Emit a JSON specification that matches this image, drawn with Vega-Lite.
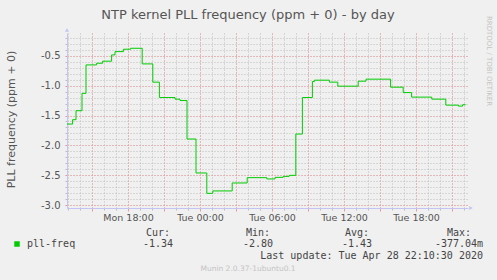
{
  "$schema": "https://vega.github.io/schema/vega-lite/v6.json",
  "width": 401,
  "height": 175,
  "autosize": {"type": "none"},
  "padding": {"left": 67, "top": 33, "right": 29, "bottom": 72},
  "background": "#f0f0f0",
  "config": {
    "view": {"fill": "#ffffff", "stroke": null},
    "font": "DejaVu Sans"
  },
  "title": {
    "text": "NTP kernel PLL frequency (ppm + 0) - by day",
    "font": "DejaVu Sans",
    "fontSize": 13,
    "fontWeight": "normal",
    "color": "#555555",
    "anchor": "middle",
    "frame": "group",
    "dx": -19.5,
    "baseline": "middle",
    "offset": -12
  },
  "data": {
    "values": [
      {"time": "2020-04-27T12:55:00", "value": -1.643},
      {"time": "2020-04-27T13:23:00", "value": -1.57},
      {"time": "2020-04-27T13:40:00", "value": -1.42},
      {"time": "2020-04-27T14:10:00", "value": -1.13},
      {"time": "2020-04-27T14:30:00", "value": -0.655},
      {"time": "2020-04-27T15:23:00", "value": -0.627},
      {"time": "2020-04-27T15:53:00", "value": -0.593},
      {"time": "2020-04-27T16:38:00", "value": -0.488},
      {"time": "2020-04-27T16:55:00", "value": -0.433},
      {"time": "2020-04-27T17:37:00", "value": -0.393},
      {"time": "2020-04-27T18:13:00", "value": -0.377},
      {"time": "2020-04-27T19:11:00", "value": -0.638},
      {"time": "2020-04-27T20:04:00", "value": -0.943},
      {"time": "2020-04-27T20:37:00", "value": -1.2},
      {"time": "2020-04-27T21:55:00", "value": -1.227},
      {"time": "2020-04-27T22:20:00", "value": -1.25},
      {"time": "2020-04-27T22:55:00", "value": -1.893},
      {"time": "2020-04-27T23:40:00", "value": -2.46},
      {"time": "2020-04-28T00:34:00", "value": -2.8},
      {"time": "2020-04-28T01:04:00", "value": -2.76},
      {"time": "2020-04-28T02:41:00", "value": -2.627},
      {"time": "2020-04-28T03:56:00", "value": -2.538},
      {"time": "2020-04-28T05:34:00", "value": -2.56},
      {"time": "2020-04-28T06:15:00", "value": -2.533},
      {"time": "2020-04-28T06:56:00", "value": -2.517},
      {"time": "2020-04-28T07:26:00", "value": -2.5},
      {"time": "2020-04-28T07:59:00", "value": -1.81},
      {"time": "2020-04-28T08:32:00", "value": -1.2},
      {"time": "2020-04-28T09:22:00", "value": -0.933},
      {"time": "2020-04-28T09:32:00", "value": -0.91},
      {"time": "2020-04-28T10:47:00", "value": -0.943},
      {"time": "2020-04-28T11:29:00", "value": -1.01},
      {"time": "2020-04-28T13:11:00", "value": -0.927},
      {"time": "2020-04-28T13:50:00", "value": -0.893},
      {"time": "2020-04-28T15:53:00", "value": -1.027},
      {"time": "2020-04-28T16:56:00", "value": -1.117},
      {"time": "2020-04-28T17:38:00", "value": -1.193},
      {"time": "2020-04-28T19:19:00", "value": -1.227},
      {"time": "2020-04-28T20:29:00", "value": -1.327},
      {"time": "2020-04-28T21:32:00", "value": -1.343},
      {"time": "2020-04-28T21:53:00", "value": -1.32},
      {"time": "2020-04-28T22:08:00", "value": -1.32}
    ]
  },
  "layer": [
    {
      "mark": {"type": "line", "strokeOpacity": 0},
      "encoding": {
        "x": {
          "field": "time", "type": "temporal",
          "scale": {"domain": [{"year": 2020, "month": 4, "date": 27, "hours": 12, "minutes": 55}, {"year": 2020, "month": 4, "date": 28, "hours": 22, "minutes": 20}]},
          "axis": {
            "orient": "bottom",
            "values": [
              {"year": 2020, "month": 4, "date": 27, "hours": 13}, {"year": 2020, "month": 4, "date": 27, "hours": 14}, {"year": 2020, "month": 4, "date": 27, "hours": 15},
              {"year": 2020, "month": 4, "date": 27, "hours": 16}, {"year": 2020, "month": 4, "date": 27, "hours": 17}, {"year": 2020, "month": 4, "date": 27, "hours": 18},
              {"year": 2020, "month": 4, "date": 27, "hours": 19}, {"year": 2020, "month": 4, "date": 27, "hours": 20}, {"year": 2020, "month": 4, "date": 27, "hours": 21},
              {"year": 2020, "month": 4, "date": 27, "hours": 22}, {"year": 2020, "month": 4, "date": 27, "hours": 23}, {"year": 2020, "month": 4, "date": 28, "hours": 0},
              {"year": 2020, "month": 4, "date": 28, "hours": 1}, {"year": 2020, "month": 4, "date": 28, "hours": 2}, {"year": 2020, "month": 4, "date": 28, "hours": 3},
              {"year": 2020, "month": 4, "date": 28, "hours": 4}, {"year": 2020, "month": 4, "date": 28, "hours": 5}, {"year": 2020, "month": 4, "date": 28, "hours": 6},
              {"year": 2020, "month": 4, "date": 28, "hours": 7}, {"year": 2020, "month": 4, "date": 28, "hours": 8}, {"year": 2020, "month": 4, "date": 28, "hours": 9},
              {"year": 2020, "month": 4, "date": 28, "hours": 10}, {"year": 2020, "month": 4, "date": 28, "hours": 11}, {"year": 2020, "month": 4, "date": 28, "hours": 12},
              {"year": 2020, "month": 4, "date": 28, "hours": 13}, {"year": 2020, "month": 4, "date": 28, "hours": 14}, {"year": 2020, "month": 4, "date": 28, "hours": 15},
              {"year": 2020, "month": 4, "date": 28, "hours": 16}, {"year": 2020, "month": 4, "date": 28, "hours": 17}, {"year": 2020, "month": 4, "date": 28, "hours": 18},
              {"year": 2020, "month": 4, "date": 28, "hours": 19}, {"year": 2020, "month": 4, "date": 28, "hours": 20}, {"year": 2020, "month": 4, "date": 28, "hours": 21},
              {"year": 2020, "month": 4, "date": 28, "hours": 22}
            ],
            "grid": true, "gridColor": "#bdbdbd", "gridDash": [1, 2], "labels": false, "ticks": true, "tickColor": "#bdbdbd", "tickSize": 2, "domain": false, "title": null
          }
        },
        "y": {
          "field": "value", "type": "quantitative",
          "scale": {"domain": [-3.045, -0.122], "nice": false, "zero": false},
          "axis": {"orient": "left", "values": [-3.0, -2.9, -2.8, -2.7, -2.6, -2.5, -2.4, -2.3, -2.2, -2.1, -2.0, -1.9, -1.8, -1.7, -1.6, -1.5, -1.4, -1.3, -1.2, -1.1, -1.0, -0.9, -0.8, -0.7, -0.6, -0.5, -0.4, -0.3, -0.2], "grid": true, "gridColor": "#bdbdbd", "gridDash": [1, 2], "labels": false, "ticks": true, "tickColor": "#bdbdbd", "tickSize": 2, "domain": false, "title": null}
        }
      }
    },
    {
      "mark": {"type": "line", "strokeOpacity": 0},
      "encoding": {
        "x": {
          "field": "time", "type": "temporal",
          "axis": {
            "orient": "bottom",
            "values": [
              {"year": 2020, "month": 4, "date": 27, "hours": 15}, {"year": 2020, "month": 4, "date": 27, "hours": 18}, {"year": 2020, "month": 4, "date": 27, "hours": 21},
              {"year": 2020, "month": 4, "date": 28, "hours": 0}, {"year": 2020, "month": 4, "date": 28, "hours": 3}, {"year": 2020, "month": 4, "date": 28, "hours": 6},
              {"year": 2020, "month": 4, "date": 28, "hours": 9}, {"year": 2020, "month": 4, "date": 28, "hours": 12}, {"year": 2020, "month": 4, "date": 28, "hours": 15},
              {"year": 2020, "month": 4, "date": 28, "hours": 18}, {"year": 2020, "month": 4, "date": 28, "hours": 21}
            ],
            "grid": true, "gridColor": "#ef9a9a", "gridDash": [1, 2], "labels": false, "ticks": true, "tickColor": "#ef9a9a", "tickSize": 3, "domain": false, "title": null
          }
        },
        "y": {
          "field": "value", "type": "quantitative",
          "axis": {
            "orient": "left", "values": [-3.0, -2.5, -2.0, -1.5, -1.0, -0.5], "grid": true, "gridColor": "#ef9a9a", "gridDash": [1, 2],
            "labels": true, "labelExpr": "replace(format(datum.value, '.1f'), '\u2212', '-')", "labelFont": "DejaVu Sans", "labelFontSize": 10, "labelColor": "#555555", "labelPadding": 5,
            "ticks": true, "tickColor": "#ef9a9a", "tickSize": 2, "domain": true, "domainColor": "#c4c4f4",
            "title": "PLL frequency (ppm + 0)", "titleFont": "DejaVu Sans", "titleFontSize": 11, "titleFontWeight": "normal", "titleColor": "#555555",
            "titleAngle": -90, "titleX": -56, "titleY": 86, "titleAlign": "center", "titleBaseline": "middle"
          }
        }
      }
    },
    {
      "mark": {"type": "line", "interpolate": "step-after", "strokeWidth": 1},
      "encoding": {
        "x": {
          "field": "time", "type": "temporal",
          "axis": {
            "orient": "bottom",
            "values": [
              {"year": 2020, "month": 4, "date": 27, "hours": 18}, {"year": 2020, "month": 4, "date": 28, "hours": 0}, {"year": 2020, "month": 4, "date": 28, "hours": 6},
              {"year": 2020, "month": 4, "date": 28, "hours": 12}, {"year": 2020, "month": 4, "date": 28, "hours": 18}
            ],
            "grid": false, "format": "%a %H:%M", "labelFont": "DejaVu Sans", "labelFontSize": 9.5, "labelColor": "#555555", "labelPadding": 4, "labelFlush": false, "ticks": false, "domain": true, "domainColor": "#c4c4f4", "title": null
          }
        },
        "y": {"field": "value", "type": "quantitative", "axis": null},
        "color": {
          "datum": "pll-freq", "type": "nominal",
          "scale": {"range": ["#00cc00"]},
          "legend": {"orient": "none", "legendX": -55, "legendY": 206, "title": null, "symbolType": "square", "symbolSize": 30, "symbolFillColor": "#00cc00", "symbolStrokeColor": "#00cc00", "symbolStrokeWidth": 0, "labelFont": "DejaVu Sans Mono", "labelFontSize": 10, "labelColor": "#444444", "labelOffset": 5, "padding": 0}
        }
      }
    },
    {
      "data": {"values": [{"shape": "triangle-up"}]},
      "mark": {"type": "point", "shape": "triangle-up", "x": 0, "y": -3, "size": 18, "filled": true, "opacity": 1, "color": "#c4c4f4"}
    },
    {
      "data": {"values": [{"shape": "triangle-right"}]},
      "mark": {"type": "point", "shape": "triangle-right", "x": 404, "y": 175, "size": 18, "filled": true, "opacity": 1, "color": "#c4c4f4"}
    },
    {
      "data": {"values": [{"t": "Cur:"}]},
      "mark": {"type": "text", "x": 91, "y": 200, "align": "center", "baseline": "middle", "font": "DejaVu Sans Mono", "fontSize": 10, "color": "#444444"},
      "encoding": {"text": {"field": "t"}}
    },
    {
      "data": {"values": [{"t": "-1.34"}]},
      "mark": {"type": "text", "x": 91, "y": 211, "align": "center", "baseline": "middle", "font": "DejaVu Sans Mono", "fontSize": 10, "color": "#444444"},
      "encoding": {"text": {"field": "t"}}
    },
    {
      "data": {"values": [{"t": "Min:"}]},
      "mark": {"type": "text", "x": 191, "y": 200, "align": "center", "baseline": "middle", "font": "DejaVu Sans Mono", "fontSize": 10, "color": "#444444"},
      "encoding": {"text": {"field": "t"}}
    },
    {
      "data": {"values": [{"t": "-2.80"}]},
      "mark": {"type": "text", "x": 191, "y": 211, "align": "center", "baseline": "middle", "font": "DejaVu Sans Mono", "fontSize": 10, "color": "#444444"},
      "encoding": {"text": {"field": "t"}}
    },
    {
      "data": {"values": [{"t": "Avg:"}]},
      "mark": {"type": "text", "x": 290, "y": 200, "align": "center", "baseline": "middle", "font": "DejaVu Sans Mono", "fontSize": 10, "color": "#444444"},
      "encoding": {"text": {"field": "t"}}
    },
    {
      "data": {"values": [{"t": "-1.43"}]},
      "mark": {"type": "text", "x": 290, "y": 211, "align": "center", "baseline": "middle", "font": "DejaVu Sans Mono", "fontSize": 10, "color": "#444444"},
      "encoding": {"text": {"field": "t"}}
    },
    {
      "data": {"values": [{"t": "Max:"}]},
      "mark": {"type": "text", "x": 392, "y": 200, "align": "center", "baseline": "middle", "font": "DejaVu Sans Mono", "fontSize": 10, "color": "#444444"},
      "encoding": {"text": {"field": "t"}}
    },
    {
      "data": {"values": [{"t": "-377.04m"}]},
      "mark": {"type": "text", "x": 392, "y": 211, "align": "center", "baseline": "middle", "font": "DejaVu Sans Mono", "fontSize": 10, "color": "#444444"},
      "encoding": {"text": {"field": "t"}}
    },
    {
      "data": {"values": [{"t": "Last update: Tue Apr 28 22:10:30 2020"}]},
      "mark": {"type": "text", "x": 416, "y": 223, "align": "right", "baseline": "middle", "font": "DejaVu Sans Mono", "fontSize": 10, "color": "#444444"},
      "encoding": {"text": {"field": "t"}}
    },
    {
      "data": {"values": [{"t": "Munin 2.0.37-1ubuntu0.1"}]},
      "mark": {"type": "text", "x": 181, "y": 236, "align": "center", "baseline": "middle", "font": "DejaVu Sans", "fontSize": 7.5, "color": "#c4c4c4"},
      "encoding": {"text": {"field": "t"}}
    },
    {
      "data": {"values": [{"t": "RRDTOOL / TOBI OETIKER"}]},
      "mark": {"type": "text", "x": 422, "y": 28, "angle": 90, "align": "center", "baseline": "middle", "font": "DejaVu Sans", "fontSize": 7, "color": "#c4c4c4"},
      "encoding": {"text": {"field": "t"}}
    }
  ],
  "resolve": {"axis": {"x": "independent", "y": "independent"}}
}
